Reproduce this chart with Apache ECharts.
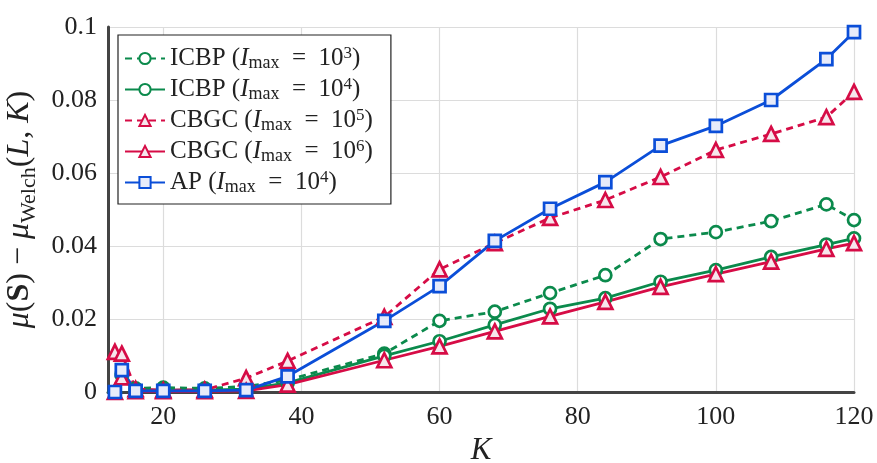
<!DOCTYPE html>
<html>
<head>
<meta charset="utf-8">
<script src="https://cdn.jsdelivr.net/npm/echarts@6/dist/echarts.min.js"></script>
<style>
  html, body { margin: 0; padding: 0; background: #fff; }
  #chart { width: 877px; height: 463px; }
</style>
</head>
<body>
<div id="chart"></div>
<script>
// Number of users K
const K = [13, 14, 16, 20, 26, 32, 38, 52, 60, 68, 76, 84, 92, 100, 108, 116, 120];

// Gap to the Welch bound for each algorithm
const icbp1e3 = [0, 0.0050, 0.0010, 0.0012, 0.0010, 0.0015, 0.0033, 0.0105, 0.0195, 0.0220, 0.0271, 0.0320, 0.0419, 0.0438, 0.0468, 0.0514, 0.0471];
const icbp1e4 = [0, 0.0045, 0.0005, 0.0005, 0.0005, 0.0008, 0.0025, 0.0099, 0.0139, 0.0184, 0.0228, 0.0257, 0.0302, 0.0334, 0.0370, 0.0404, 0.0421];
const cbgc1e5 = [0.0110, 0.0105, 0.0008, 0.0005, 0.0006, 0.0038, 0.0085, 0.0206, 0.0336, 0.0408, 0.0477, 0.0526, 0.0589, 0.0663, 0.0707, 0.0753, 0.0822];
const cbgc1e6 = [0, 0.0040, 0.0002, 0.0002, 0.0002, 0.0003, 0.0020, 0.0087, 0.0125, 0.0166, 0.0207, 0.0247, 0.0288, 0.0323, 0.0357, 0.0392, 0.0408];
const ap1e4   = [0, 0.0060, 0.0003, 0.0003, 0.0003, 0.0005, 0.0043, 0.0195, 0.0290, 0.0414, 0.0502, 0.0575, 0.0675, 0.0729, 0.0800, 0.0912, 0.0986];

const xTicks = [20, 40, 60, 80, 100, 120];

const GREEN = '#0b8a4c';
const RED = '#d60c46';
const BLUE = '#0b4ed8';
const SERIF = '"Liberation Serif", "DejaVu Serif", serif';
const EQ = '\u2002=\u2002';

function pairs(vals) { return K.map((k, i) => [k, vals[i]]); }

function makeSeries(name, vals, color, dashed, symbol, fill, size) {
  return {
    name: name,
    type: 'line',
    data: pairs(vals),
    symbol: symbol,
    symbolSize: size,
    showAllSymbol: true,
    lineStyle: { color: color, width: 2.8, type: dashed ? [7, 5] : 'solid' },
    itemStyle: { color: fill, borderColor: color, borderWidth: 2.7 },
    emphasis: { disabled: true },
    animation: false
  };
}

const seriesList = [
  makeSeries('icbp3', icbp1e3, GREEN, true, 'circle', '#ffffff', 12),
  makeSeries('icbp4', icbp1e4, GREEN, false, 'circle', '#ffffff', 12),
  makeSeries('cbgc5', cbgc1e5, RED, true, 'triangle', '#f6e6ec', 14),
  makeSeries('cbgc6', cbgc1e6, RED, false, 'triangle', '#f6e6ec', 14),
  makeSeries('ap4', ap1e4, BLUE, false, 'rect', '#e7ebfa', 12)
];

// Legend labels: method name and iteration limit exponent
const legendText = {
  icbp3: ['ICBP', '3'],
  icbp4: ['ICBP', '4'],
  cbgc5: ['CBGC', '5'],
  cbgc6: ['CBGC', '6'],
  ap4:   ['AP', '4']
};

const chart = echarts.init(document.getElementById('chart'), null, { renderer: 'canvas' });

chart.setOption({
  backgroundColor: '#ffffff',
  animation: false,
  grid: { left: 108, right: 23, top: 27, bottom: 71, outerBoundsMode: 'none', containLabel: false },
  xAxis: {
    type: 'value',
    min: 12,
    max: 120,
    name: 'K',
    nameLocation: 'middle',
    nameGap: 40,
    nameTextStyle: { fontFamily: SERIF, fontStyle: 'italic', fontSize: 31, color: '#222' },
    axisLine: { show: true, onZero: false, lineStyle: { color: '#444', width: 3 } },
    axisTick: { show: false, customValues: xTicks },
    axisLabel: { customValues: xTicks, fontFamily: SERIF, fontSize: 26, color: '#222', margin: 12 },
    splitLine: { show: true, lineStyle: { color: '#dcdcdc', width: 1.2 } }
  },
  yAxis: {
    type: 'value',
    min: 0,
    max: 0.1,
    interval: 0.02,
    name: '{i|μ}{n|(}{b|S}{n|) − }{i|μ}{s|Welch}{n|(}{i|L}{n|, }{i|K}{n|)}',
    nameLocation: 'middle',
    nameRotate: 90,
    nameGap: 68,
    nameTextStyle: {
      fontFamily: SERIF, fontSize: 32, color: '#222',
      rich: {
        n: { fontFamily: SERIF, fontSize: 32, color: '#222', lineHeight: 40, verticalAlign: 'middle' },
        i: { fontFamily: SERIF, fontSize: 32, fontStyle: 'italic', color: '#222', lineHeight: 40, verticalAlign: 'middle' },
        b: { fontFamily: SERIF, fontSize: 32, fontWeight: 'bold', color: '#222', lineHeight: 40, verticalAlign: 'middle' },
        s: { fontFamily: SERIF, fontSize: 22, color: '#222', lineHeight: 40, verticalAlign: 'bottom' }
      }
    },
    axisLine: { show: true, lineStyle: { color: '#444', width: 3 } },
    axisTick: { show: false },
    axisLabel: {
      fontFamily: SERIF, fontSize: 26, color: '#222', margin: 11,
      formatter: v => String(+v.toFixed(2))
    },
    splitLine: { show: true, lineStyle: { color: '#dcdcdc', width: 1.2 } }
  },
  legend: {
    orient: 'vertical',
    left: 118,
    top: 35,
    padding: [10, 18, 8, 6],
    itemGap: 4,
    itemWidth: 40,
    itemHeight: 14,
    backgroundColor: '#ffffff',
    borderColor: '#222',
    borderWidth: 1.2,
    borderRadius: 0,
    selectedMode: false,
    data: ['icbp3', 'icbp4', 'cbgc5', 'cbgc6', 'ap4'],
    formatter: function (name) {
      const t = legendText[name];
      return '{n|' + t[0] + ' (}{i|I}{s|max}{n|' + EQ + '10}{p|' + t[1] + '}{n|)}';
    },
    textStyle: {
      fontFamily: SERIF, fontSize: 25, color: '#222',
      rich: {
        n: { fontFamily: SERIF, fontSize: 25, color: '#222', lineHeight: 27, verticalAlign: 'middle' },
        i: { fontFamily: SERIF, fontSize: 25, fontStyle: 'italic', color: '#222', lineHeight: 27, verticalAlign: 'middle' },
        s: { fontFamily: SERIF, fontSize: 18, color: '#222', lineHeight: 27, verticalAlign: 'bottom' },
        p: { fontFamily: SERIF, fontSize: 17, color: '#222', lineHeight: 27, verticalAlign: 'top' }
      }
    }
  },
  series: seriesList
});
</script>
</body>
</html>
